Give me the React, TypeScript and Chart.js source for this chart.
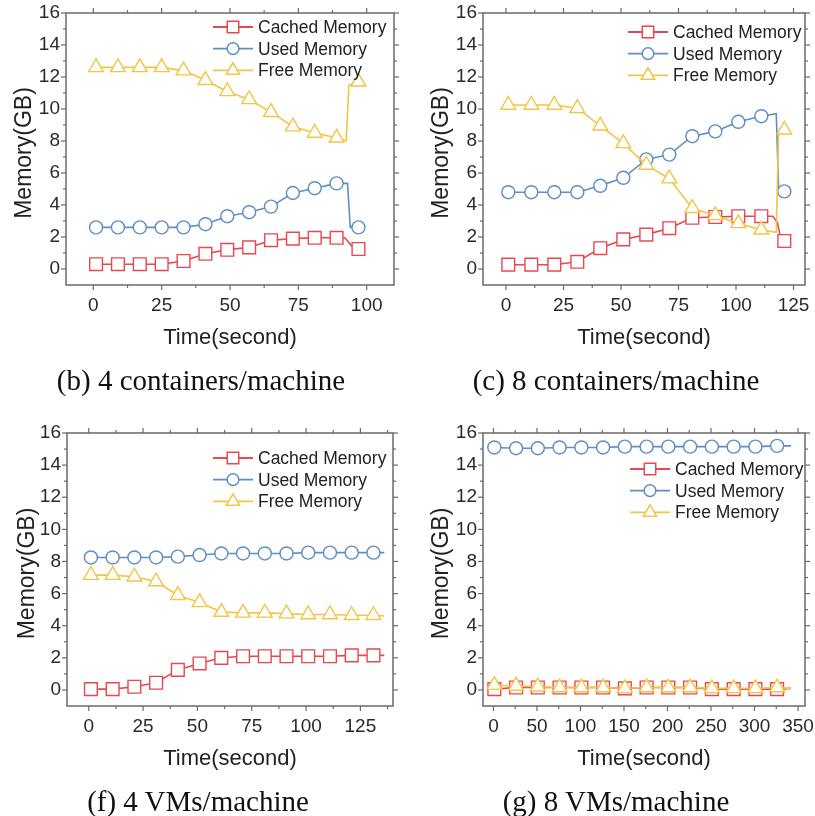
import React, { useEffect, useRef } from 'react';
import { Chart, registerables } from 'chart.js';
Chart.register(...registerables);

const FONT = '"Liberation Sans", Arial, Helvetica, sans-serif';
const SERIF = '"Liberation Serif", "Times New Roman", Times, serif';

const SERIES_NAMES = ['Cached Memory', 'Used Memory', 'Free Memory'];
const SERIES_COLORS = ['#e8474f', '#5e8ec3', '#f2c544'];
const SERIES_STYLES = ['rect', 'circle', 'triangle'];
const Y_TITLE = 'Memory(GB)';
const X_TITLE = 'Time(second)';
const Y_TICKS = [0, 2, 4, 6, 8, 10, 12, 14, 16];
const Y_MINOR = [1, 3, 5, 7, 9, 11, 13, 15];

type Pair = [number, number];

// (b) 4 containers/machine
const bTime = [1, 9, 17, 25, 33, 41, 49, 57, 65, 73, 81, 89, 97];
const bCached = [0.3, 0.3, 0.3, 0.3, 0.5, 0.95, 1.2, 1.35, 1.8, 1.9, 1.95, 1.95, 1.25];
const bUsed = [2.6, 2.6, 2.6, 2.6, 2.6, 2.8, 3.3, 3.55, 3.9, 4.75, 5.05, 5.35, 2.6];
const bFree = [12.6, 12.6, 12.6, 12.6, 12.4, 11.8, 11.1, 10.6, 9.8, 8.9, 8.5, 8.2, 11.7];
const bCachedSteps: Pair[] = [[92, 1.95], [94.5, 1.45]];
const bUsedSteps: Pair[] = [[93, 5.35], [94, 2.6]];
const bFreeSteps: Pair[] = [[92.5, 8.0], [93.5, 11.5]];
const bXTicks = [0, 25, 50, 75, 100];
const bXMinor = [12.5, 37.5, 62.5, 87.5];

// (c) 8 containers/machine
const cTime = [1, 11, 21, 31, 41, 51, 61, 71, 81, 91, 101, 111, 121];
const cCached = [0.27, 0.27, 0.27, 0.45, 1.3, 1.85, 2.15, 2.55, 3.2, 3.25, 3.3, 3.3, 1.75];
const cUsed = [4.8, 4.8, 4.8, 4.8, 5.2, 5.7, 6.85, 7.15, 8.3, 8.6, 9.2, 9.55, 4.85];
const cFree = [10.25, 10.25, 10.25, 10.05, 8.95, 7.85, 6.5, 5.65, 3.8, 3.35, 2.85, 2.45, 8.7];
const cCachedSteps: Pair[] = [[116, 3.3], [118, 2.9], [119, 2.2]];
const cUsedSteps: Pair[] = [[117.5, 9.7], [118.5, 5.1]];
const cFreeSteps: Pair[] = [[117.5, 2.3], [118.5, 8.5]];
const cXTicks = [0, 25, 50, 75, 100, 125];
const cXMinor = [12.5, 37.5, 62.5, 87.5, 112.5];

// (f) 4 VMs/machine
const fTime = [1, 11, 21, 31, 41, 51, 61, 71, 81, 91, 101, 111, 121, 131];
const fCached = [0.05, 0.05, 0.2, 0.45, 1.25, 1.65, 2.0, 2.1, 2.1, 2.1, 2.1, 2.1, 2.15, 2.15];
const fUsed = [8.25, 8.25, 8.25, 8.25, 8.3, 8.4, 8.5, 8.5, 8.5, 8.5, 8.55, 8.55, 8.55, 8.55];
const fFree = [7.15, 7.15, 7.05, 6.75, 5.9, 5.45, 4.85, 4.8, 4.8, 4.75, 4.7, 4.7, 4.65, 4.65];
const fCachedSteps: Pair[] = [[136, 2.15]];
const fUsedSteps: Pair[] = [[136, 8.55]];
const fFreeSteps: Pair[] = [[136, 4.6]];
const fXTicks = [0, 25, 50, 75, 100, 125];
const fXMinor = [12.5, 37.5, 62.5, 87.5, 112.5, 137.5];

// (g) 8 VMs/machine
const gTime = [1, 26, 51, 76, 101, 126, 151, 176, 201, 226, 251, 276, 301, 326];
const gCached = [0.05, 0.15, 0.15, 0.15, 0.15, 0.15, 0.1, 0.15, 0.15, 0.15, 0.05, 0.05, 0.05, 0.05];
const gUsed = [15.1, 15.05, 15.05, 15.1, 15.1, 15.1, 15.15, 15.15, 15.15, 15.15, 15.15, 15.15, 15.15, 15.2];
const gFree = [0.3, 0.25, 0.2, 0.15, 0.15, 0.15, 0.1, 0.15, 0.15, 0.15, 0.1, 0.1, 0.1, 0.15];
const gCachedSteps: Pair[] = [[342, 0.1]];
const gUsedSteps: Pair[] = [[342, 15.2]];
const gFreeSteps: Pair[] = [[342, 0.1]];
const gXTicks = [0, 50, 100, 150, 200, 250, 300, 350];
const gXMinor = [25, 75, 125, 175, 225, 275, 325];

const CAPTIONS = ['(b) 4 containers/machine', '(c) 8 containers/machine', '(f) 4 VMs/machine', '(g) 8 VMs/machine'];

interface Panel {
  left: number; top: number;
  cl: number; cr: number; ct: number; cb: number;
  xMin: number; xMax: number; xTicks: number[]; xMinor: number[];
  time: number[]; series: number[][]; steps: Pair[][];
  legX: number; legY: number; ylabX: number;
  caption: string; capX: number; capY: number;
}

const CW = 408;
const CH = 370;

const PANELS: Panel[] = [
  { left: 0, top: 0, cl: 66, cr: 394, ct: 13, cb: 285, xMin: -10, xMax: 110, xTicks: bXTicks, xMinor: bXMinor,
    time: bTime, series: [bCached, bUsed, bFree], steps: [bCachedSteps, bUsedSteps, bFreeSteps],
    legX: 213, legY: 27, ylabX: 25, caption: CAPTIONS[0], capX: 201, capY: 380 },
  { left: 408, top: 0, cl: 75, cr: 397, ct: 13, cb: 285, xMin: -10, xMax: 130, xTicks: cXTicks, xMinor: cXMinor,
    time: cTime, series: [cCached, cUsed, cFree], steps: [cCachedSteps, cUsedSteps, cFreeSteps],
    legX: 220, legY: 32, ylabX: 34, caption: CAPTIONS[1], capX: 616, capY: 380 },
  { left: 0, top: 420, cl: 67, cr: 393, ct: 13, cb: 286, xMin: -10, xMax: 140, xTicks: fXTicks, xMinor: fXMinor,
    time: fTime, series: [fCached, fUsed, fFree], steps: [fCachedSteps, fUsedSteps, fFreeSteps],
    legX: 213, legY: 38, ylabX: 28, caption: CAPTIONS[2], capX: 198, capY: 801 },
  { left: 408, top: 420, cl: 75, cr: 397, ct: 13, cb: 286, xMin: -12, xMax: 358, xTicks: gXTicks, xMinor: gXMinor,
    time: gTime, series: [gCached, gUsed, gFree], steps: [gCachedSteps, gUsedSteps, gFreeSteps],
    legX: 222, legY: 49, ylabX: 34, caption: CAPTIONS[3], capX: 616, capY: 801 },
];

const RADII = [9, 6.5, 8.5];

function drawMarker(ctx: CanvasRenderingContext2D, style: string, x: number, y: number, r: number) {
  ctx.beginPath();
  if (style === 'circle') {
    ctx.arc(x, y, r, 0, Math.PI * 2);
  } else if (style === 'rect') {
    const s = r * Math.SQRT1_2;
    ctx.rect(x - s, y - s, 2 * s, 2 * s);
  } else {
    ctx.moveTo(x, y - r);
    ctx.lineTo(x + r * Math.sin(Math.PI * 2 / 3), y + r / 2);
    ctx.lineTo(x - r * Math.sin(Math.PI * 2 / 3), y + r / 2);
    ctx.closePath();
  }
  ctx.fillStyle = '#fff';
  ctx.fill();
  ctx.stroke();
}

function makePlugin(p: Panel) {
  return {
    id: 'decor',
    afterDatasetsDraw(chart: any) {
      const { ctx, chartArea: a, scales } = chart;
      const xs = scales.x;
      const ys = scales.y;
      ctx.save();
      ctx.strokeStyle = '#6a6a6a';
      ctx.lineWidth = 1.5;
      ctx.strokeRect(a.left, a.top, a.right - a.left, a.bottom - a.top);
      ctx.lineWidth = 1.2;
      const seg = (x1: number, y1: number, x2: number, y2: number) => {
        ctx.beginPath(); ctx.moveTo(x1, y1); ctx.lineTo(x2, y2); ctx.stroke();
      };
      const tickX = (vals: number[], len: number) => vals.forEach((v) => {
        const px = xs.getPixelForValue(v);
        seg(px, a.bottom, px, a.bottom + len);
        seg(px, a.top, px, a.top - len);
      });
      const tickY = (vals: number[], len: number) => vals.forEach((v) => {
        const py = ys.getPixelForValue(v);
        seg(a.left, py, a.left - len, py);
        seg(a.right, py, a.right + len, py);
      });
      tickX(p.xTicks, 5); tickX(p.xMinor, 3);
      tickY(Y_TICKS, 5); tickY(Y_MINOR, 3);

      // axis titles
      ctx.fillStyle = '#222';
      ctx.textAlign = 'center';
      ctx.textBaseline = 'middle';
      ctx.font = `22px ${FONT}`;
      ctx.fillText(X_TITLE, (a.left + a.right) / 2, a.bottom + 53);
      ctx.save();
      ctx.translate(p.ylabX, (a.top + a.bottom) / 2 + 4);
      ctx.rotate(-Math.PI / 2);
      ctx.font = `23px ${FONT}`;
      ctx.fillText(Y_TITLE, 0, 0);
      ctx.restore();

      // legend
      ctx.font = `17.5px ${FONT}`;
      ctx.textAlign = 'left';
      SERIES_NAMES.forEach((name, i) => {
        const y = p.legY + i * 21.7;
        ctx.strokeStyle = SERIES_COLORS[i];
        ctx.lineWidth = 1.8;
        seg(p.legX, y, p.legX + 40, y);
        ctx.lineWidth = 1.5;
        drawMarker(ctx, SERIES_STYLES[i], p.legX + 20, y, RADII[i] * 0.9);
        ctx.fillStyle = '#222';
        ctx.fillText(name, p.legX + 45, y + 1);
      });
      ctx.restore();
    },
  };
}

function buildPoints(time: number[], vals: number[], steps: Pair[]) {
  const pts = time.map((t, i) => ({ x: t, y: vals[i], m: true }))
    .concat(steps.map(([x, y]) => ({ x, y, m: false })));
  pts.sort((u, v) => u.x - v.x);
  return pts;
}

function PanelChart({ p }: { p: Panel }) {
  const ref = useRef<HTMLCanvasElement>(null);
  useEffect(() => {
    if (!ref.current) return;
    const datasets = p.series.map((vals, i) => {
      const pts = buildPoints(p.time, vals, p.steps[i]);
      return {
        label: SERIES_NAMES[i],
        data: pts.map((q) => ({ x: q.x, y: q.y })),
        borderColor: SERIES_COLORS[i],
        backgroundColor: '#fff',
        borderWidth: 1.6,
        pointStyle: SERIES_STYLES[i],
        pointRadius: pts.map((q) => (q.m ? RADII[i] : 0)),
        pointBorderWidth: 1.4,
        pointBorderColor: SERIES_COLORS[i],
        pointBackgroundColor: '#fff',
        tension: 0,
        order: 2 - i,
      };
    });
    const chart = new Chart(ref.current, {
      type: 'line',
      data: { datasets },
      plugins: [makePlugin(p)],
      options: {
        animation: false,
        responsive: false,
        events: [],
        layout: { padding: { left: 0, right: CW - p.cr, top: p.ct, bottom: 0 } },
        plugins: { legend: { display: false }, tooltip: { enabled: false } },
        scales: {
          x: {
            type: 'linear',
            min: p.xMin,
            max: p.xMax,
            grid: { display: false, drawTicks: false },
            border: { display: false },
            ticks: { font: { family: FONT, size: 19 }, color: '#2a2a2a', padding: 9, maxRotation: 0 },
            afterBuildTicks: (s: any) => { s.ticks = p.xTicks.map((v) => ({ value: v })); },
            afterFit: (s: any) => { s.height = CH - p.cb; s.paddingLeft = 0; s.paddingRight = 0; },
          },
          y: {
            type: 'linear',
            min: -1,
            max: 16,
            grid: { display: false, drawTicks: false },
            border: { display: false },
            ticks: { font: { family: FONT, size: 19 }, color: '#2a2a2a', padding: 6 },
            afterBuildTicks: (s: any) => { s.ticks = Y_TICKS.map((v) => ({ value: v })); },
            afterFit: (s: any) => { s.width = p.cl; s.paddingTop = 0; s.paddingBottom = 0; },
          },
        },
      } as any,
    });
    return () => chart.destroy();
  }, [p]);
  return (
    <canvas
      ref={ref}
      width={CW}
      height={CH}
      style={{ position: 'absolute', left: p.left, top: p.top, width: CW, height: CH }}
    />
  );
}

export default function App() {
  return (
    <div style={{ position: 'absolute', left: 0, top: 0, width: 815, height: 816, background: '#fff', overflow: 'hidden' }}>
      {PANELS.map((p, i) => (
        <PanelChart key={i} p={p} />
      ))}
      {PANELS.map((p, i) => (
        <div
          key={'c' + i}
          style={{
            position: 'absolute',
            left: p.capX,
            top: p.capY,
            transform: 'translate(-50%, -50%)',
            fontFamily: SERIF,
            fontSize: 29,
            color: '#111',
            whiteSpace: 'nowrap',
            lineHeight: 1,
          }}
        >
          {p.caption}
        </div>
      ))}
    </div>
  );
}
